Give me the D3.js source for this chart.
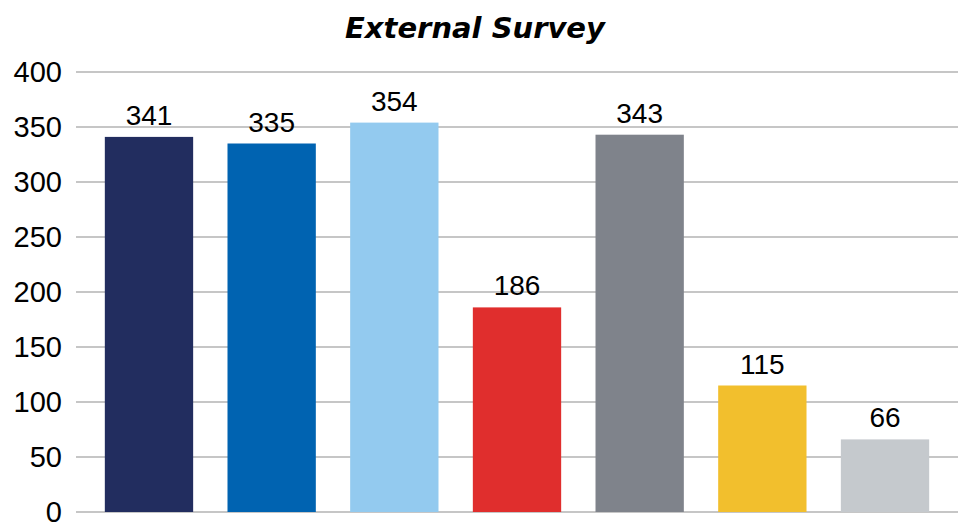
<!DOCTYPE html>
<html>
<head>
<meta charset="utf-8">
<script src="https://cdn.jsdelivr.net/npm/d3@7"></script>
<style>
  body { margin: 0; background: #fff; }
</style>
</head>
<body>
<div id="chart"></div>
<script>
const categories = ["A", "B", "C", "D", "E", "F", "G"];
const values = [341, 335, 354, 186, 343, 115, 66];
const colors = ["#222d5f", "#0063b1", "#93caef", "#e02e2d", "#7f838b", "#f2bf2d", "#c5c9cd"];
const yTicks = [0, 50, 100, 150, 200, 250, 300, 350, 400];

const W = 958, H = 525;
const margin = { top: 72, right: 0, bottom: 13, left: 76 };

const svg = d3.select("#chart")
    .append("svg")
    .attr("width", W)
    .attr("height", H);

const x = d3.scaleBand()
    .domain(categories)
    .range([margin.left, W - margin.right])
    .paddingInner(0.28)
    .paddingOuter(0.235);

const y = d3.scaleLinear()
    .domain([0, 400])
    .range([H - margin.bottom, margin.top]);

// gridlines
svg.append("g")
    .selectAll("line")
    .data(yTicks)
    .enter()
    .append("line")
    .attr("x1", margin.left)
    .attr("x2", W - margin.right)
    .attr("y1", d => y(d))
    .attr("y2", d => y(d))
    .attr("stroke", "#b3b3b3")
    .attr("stroke-width", 1.5);

// y axis labels
svg.append("g")
    .selectAll("text")
    .data(yTicks)
    .enter()
    .append("text")
    .attr("x", 62)
    .attr("y", d => y(d))
    .attr("dy", "0.34em")
    .attr("text-anchor", "end")
    .style("font", "29px 'Liberation Sans', Arial, sans-serif")
    .attr("fill", "#000")
    .text(d => d);

// bars
svg.append("g")
    .selectAll("rect")
    .data(values)
    .enter()
    .append("rect")
    .attr("x", (d, i) => x(categories[i]))
    .attr("y", d => y(d))
    .attr("width", x.bandwidth())
    .attr("height", d => y(0) - y(d))
    .attr("fill", (d, i) => colors[i]);

// value labels
svg.append("g")
    .selectAll("text")
    .data(values)
    .enter()
    .append("text")
    .attr("x", (d, i) => x(categories[i]) + x.bandwidth() / 2)
    .attr("y", d => y(d) - 12)
    .attr("text-anchor", "middle")
    .style("font", "28px 'Liberation Sans', Arial, sans-serif")
    .attr("fill", "#000")
    .text(d => d);

// title
svg.append("text")
    .attr("x", 475)
    .attr("y", 38)
    .attr("text-anchor", "middle")
    .style("font", "italic bold 29px 'DejaVu Sans', sans-serif")
    .attr("fill", "#000")
    .text("External Survey");
</script>
</body>
</html>
